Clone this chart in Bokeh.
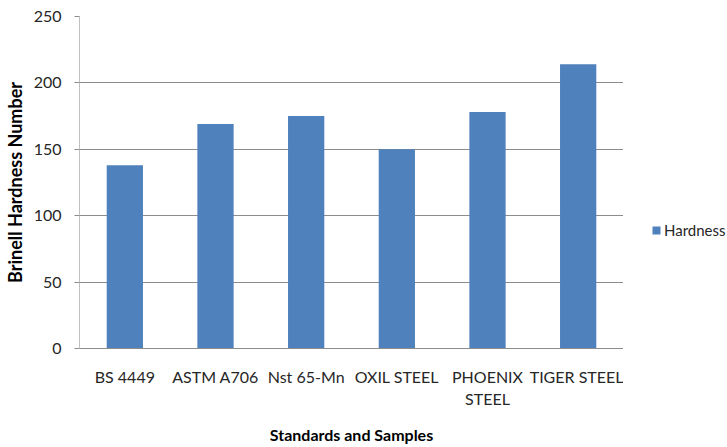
from bokeh.plotting import figure
from bokeh.layouts import row
from bokeh.models import ColumnDataSource, Range1d, FixedTicker, Legend, LegendItem
from bokeh.embed import file_html
from bokeh.resources import INLINE

categories = ["BS 4449", "ASTM A706", "Nst 65-Mn", "OXIL STEEL", "PHOENIX\nSTEEL", "TIGER STEEL"]
hardness = [138, 169, 175, 150, 178, 214]
y_ticks = [0, 50, 100, 150, 200, 250]
series_name = "Hardness"

FONT = "Lato"
BAR = "#4f81bd"

src = ColumnDataSource(data=dict(cat=categories, val=hardness))

p = figure(x_range=categories, y_range=Range1d(0, 250), width=623, height=447,
           output_backend="svg", toolbar_location=None,
           min_border_left=75, min_border_right=0, min_border_top=16, min_border_bottom=95)
p.outline_line_color = None
p.background_fill_color = "white"
p.border_fill_color = "white"

p.vbar(x="cat", top="val", width=0.4, source=src, fill_color=BAR, line_color=None)

# axes
p.yaxis.ticker = FixedTicker(ticks=y_ticks)
p.yaxis.axis_line_color = "#c0c0c0"
p.yaxis.major_tick_line_color = "#8c8c8c"
p.yaxis.major_tick_out = 5
p.yaxis.major_tick_in = 0
p.yaxis.minor_tick_line_color = None
p.yaxis.major_label_standoff = 13
p.yaxis.major_label_text_font = FONT
p.yaxis.major_label_text_font_size = "16px"
p.yaxis.major_label_text_color = "#262626"
p.yaxis.axis_label = "Brinell Hardness Number"
p.yaxis.axis_label_text_font = FONT
p.yaxis.axis_label_text_font_style = "bold"
p.yaxis.axis_label_text_font_size = "18px"
p.yaxis.axis_label_text_color = "#000000"
p.yaxis.axis_label_standoff = 5

p.xaxis.axis_line_color = "#8c8c8c"
p.xaxis.major_tick_line_color = None
p.xaxis.major_tick_out = 0
p.xaxis.major_tick_in = 0
p.xaxis.major_label_standoff = 18
p.xaxis.major_label_text_font = FONT
p.xaxis.major_label_text_font_size = "16px"
p.xaxis.major_label_text_color = "#262626"
p.xaxis.axis_label = "Standards and Samples"
p.xaxis.axis_label_text_font = FONT
p.xaxis.axis_label_text_font_style = "bold"
p.xaxis.axis_label_text_font_size = "16px"
p.xaxis.axis_label_text_color = "#000000"
p.xaxis.axis_label_standoff = 14

p.xgrid.grid_line_color = None
p.ygrid.grid_line_color = "#8c8c8c"
p.ygrid.grid_line_width = 1

# legend panel (separate small figure to the right); its key glyph uses the
# same data, which falls outside this panel's ranges and so is not drawn
q = figure(width=104, height=447, x_range=Range1d(0, 1), y_range=Range1d(0, 1),
           x_axis_type=None, y_axis_type=None, output_backend="svg", toolbar_location=None,
           min_border=0, min_border_left=0, min_border_right=0, min_border_top=0,
           min_border_bottom=0)
q.outline_line_color = None
q.grid.grid_line_color = None
key = q.vbar(x="val", top="val", width=0.1, source=src, fill_color=BAR, line_color=None)
lg = Legend(items=[LegendItem(label=series_name, renderers=[key])],
            location=(28, 109), border_line_color=None, background_fill_alpha=0,
            padding=0, margin=0, glyph_width=10, glyph_height=10, label_standoff=3,
            label_text_font=FONT, label_text_font_size="15px", label_text_color="#262626")
q.add_layout(lg)

layout = row(p, q, spacing=0)
open("out.html", "w").write(file_html(layout, INLINE))
